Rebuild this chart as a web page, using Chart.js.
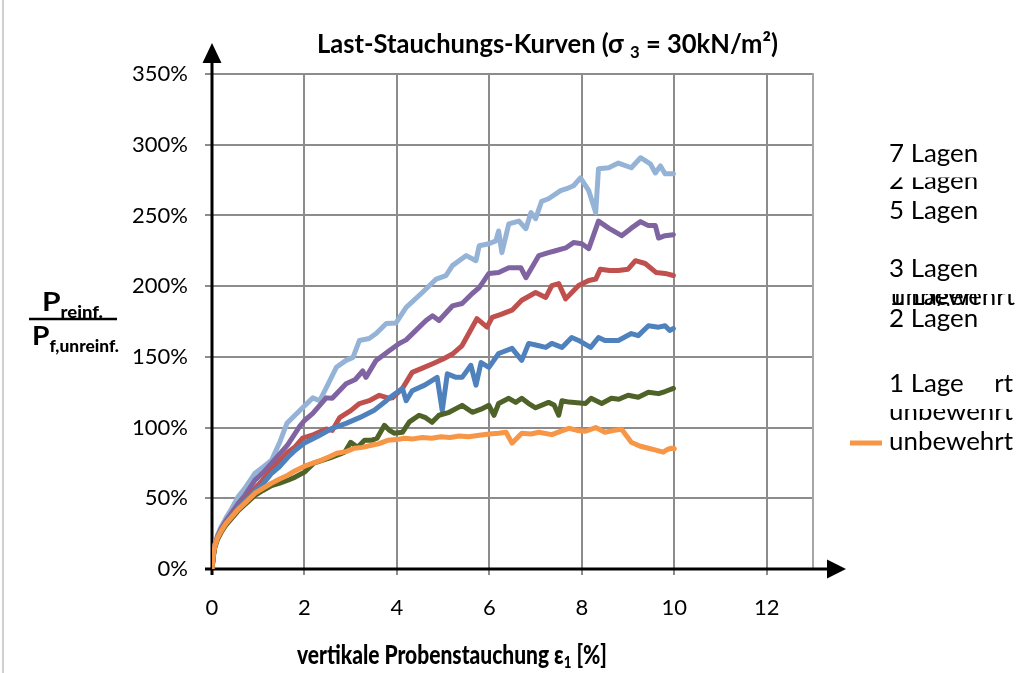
<!DOCTYPE html>
<html><head><meta charset="utf-8">
<script src="https://cdn.jsdelivr.net/npm/chart.js@4.4.1/dist/chart.umd.min.js"></script>
<style>html,body{margin:0;padding:0;background:#fff}canvas{display:block}</style>
</head><body>
<canvas id="c" width="1029" height="673"></canvas>
<script>
// ---- data ----
const seriesNames = ['unbewehrt', '1 Lage', '2 Lagen', '3 Lagen', '5 Lagen', '7 Lagen'];
const xTickValues = [0, 2, 4, 6, 8, 10, 12];
const yTickValues = [0, 50, 100, 150, 200, 250, 300, 350];

const xUnbewehrt = [0,0.03,0.06,0.12,0.2,0.3,0.43,0.56,0.71,0.93,1.1,1.29,1.45,1.64,1.8,2.0,2.2,2.37,2.55,2.7,2.9,3.08,3.25,3.45,3.6,3.8,4.0,4.16,4.35,4.55,4.75,4.95,5.15,5.35,5.55,5.78,6.0,6.2,6.36,6.49,6.7,6.9,7.07,7.35,7.55,7.72,7.9,8.08,8.3,8.5,8.7,8.86,9.07,9.25,9.44,9.6,9.76,9.85,9.94,10.0];
const yUnbewehrt = [0,10,16,22,27,32,37,42,46.6,53.6,57,60.7,63.5,66.3,69.5,72.7,75,77,79.5,81.9,83,85.4,86,87.5,88.5,91,91.5,92.5,92,93,92.5,93.5,93,94,93.5,94.5,95.5,96,96.7,89,96,95.5,96.7,95,97.5,99.5,98,97.4,100,96.7,98,98.8,89.6,87,85.4,84,82.6,84.5,85.4,85];

const x1Lage = [0,0.03,0.06,0.12,0.2,0.3,0.43,0.56,0.71,0.93,1.1,1.29,1.45,1.64,1.8,2.0,2.2,2.4,2.58,2.75,2.87,3.0,3.15,3.3,3.45,3.57,3.73,3.84,3.94,4.12,4.27,4.48,4.62,4.76,4.91,5.13,5.41,5.63,5.82,5.99,6.1,6.2,6.42,6.57,6.7,6.85,7.0,7.28,7.4,7.5,7.57,7.72,7.9,8.08,8.2,8.43,8.64,8.8,9.0,9.22,9.44,9.66,9.8,9.98];
const y1Lage = [0,9,15,21,26,31,36,41,45.5,52,55.5,59,60.5,62.8,65,68.5,74.8,77,79,81,82.6,89.6,86,91,91,92.5,101.6,98,96,96.7,104,108.7,107,103.7,108.7,110.8,115.7,110.8,113,115.7,108.7,117,120.7,117.8,120.7,117,114,117.8,116,108.7,119,118,117.5,117,120.7,117,120.7,120,122.8,121.4,125,124,125.5,127.7];

const x2Lagen = [0,0.03,0.06,0.12,0.2,0.3,0.43,0.56,0.71,0.93,1.1,1.29,1.45,1.64,1.8,2.0,2.3,2.6,2.9,3.19,3.5,3.77,3.84,4.05,4.12,4.2,4.33,4.6,4.87,4.98,5.09,5.28,5.41,5.6,5.71,5.82,5.99,6.2,6.49,6.7,6.85,7.05,7.22,7.35,7.57,7.78,7.93,8.19,8.36,8.5,8.79,9.07,9.22,9.44,9.66,9.8,9.9,9.98];
const y2Lagen = [0,10,16,22,27.5,32.5,37.5,43,48,55,60,67.7,72,79,84,89,94,99.5,103,107,112,119,121,126,127.7,119,126,130,135.5,112,138,135.5,135.5,144,130,146,142.6,152.4,156,147.5,159.5,158,156.7,159.5,156.7,163.7,161.6,156.7,163.7,161.6,161.6,166.5,165,172,171,172,168.7,170];

const x3Lagen = [0,0.03,0.06,0.12,0.2,0.3,0.43,0.56,0.71,0.93,1.1,1.29,1.45,1.64,1.8,1.96,2.2,2.47,2.6,2.76,3.0,3.19,3.4,3.62,3.84,3.9,4.12,4.33,4.55,4.76,5.0,5.2,5.41,5.73,5.95,6.06,6.25,6.49,6.7,7.0,7.22,7.35,7.5,7.65,7.93,8.15,8.3,8.4,8.6,8.79,9.0,9.16,9.37,9.61,9.8,9.98];
const y3Lagen = [0,10,16,22,27.5,33,38,43.5,49,57,63,70.6,76,82.6,86.5,92.5,95,99,98,107,112,117,119,122.8,120.7,121,127.7,139,142,145,148.5,152,158,177,171,178,180,183,190,195.5,192,200.4,201.8,191,200.4,204,205,212,211,211,212,218,216,209.6,209,207.5];

const x5Lagen = [0,0.03,0.06,0.12,0.2,0.3,0.43,0.56,0.71,0.93,1.1,1.29,1.4,1.64,1.9,2.0,2.18,2.47,2.6,2.9,3.1,3.26,3.33,3.55,3.84,4.05,4.2,4.41,4.63,4.77,4.91,5.2,5.41,5.63,5.78,5.99,6.2,6.42,6.68,6.79,7.07,7.28,7.43,7.65,7.82,8.0,8.15,8.36,8.58,8.86,9.07,9.27,9.44,9.59,9.66,9.8,9.98];
const y5Lagen = [0,10,16.5,23,28.5,34,40,46,52,62.8,68,74.8,79,88,101,105,110,121,120.7,131,134,140,135.5,147.5,154.5,159.5,162,168.7,175.7,179,175.7,186,187.7,194.8,199,209,209.6,213,213,206,221.6,223.7,225,227,230.8,230,226.5,246,241,235.7,241,245.6,242.8,242.8,234,235.7,236.4];

const x7Lagen = [0,0.03,0.06,0.12,0.2,0.3,0.43,0.56,0.71,0.93,1.1,1.29,1.47,1.62,1.68,1.96,2.18,2.33,2.47,2.69,2.9,3.05,3.19,3.4,3.55,3.77,3.98,4.2,4.55,4.85,5.06,5.2,5.5,5.71,5.78,5.99,6.14,6.2,6.27,6.42,6.64,6.79,6.9,7.0,7.13,7.28,7.54,7.67,7.82,7.97,8.15,8.3,8.36,8.58,8.79,9.07,9.27,9.48,9.59,9.7,9.8,9.98];
const y7Lagen = [0,10.5,17,24,30,36,43,50.8,57,67.7,72,77,90,103,105,114,121,119,128,142.6,147.5,149.6,161.6,163,166.5,173.6,174,185,195.5,205,207.5,214.5,221.6,218,228.6,230,232,239,223.7,244,246,240.6,252,247.7,260,261.8,267.5,268.9,271,276.6,267.5,252,283,283.7,287,283.7,290.8,286.5,280,285,279.5,279.5];

const legendTexts = ['7 Lagen', '2 Lagen', '5 Lagen', '3 Lagen', '1 Lagen', 'unbewehrt', '2 Lagen', '1 Lage', 'unbewehrt', 'unbewehrt'];

// ---- build ----
const zip = (xs, ys) => xs.map((x, i) => ({x: x, y: ys[i]}));
const seriesX = [xUnbewehrt, x1Lage, x2Lagen, x3Lagen, x5Lagen, x7Lagen];
const seriesY = [yUnbewehrt, y1Lage, y2Lagen, y3Lagen, y5Lagen, y7Lagen];
const colors = ['#F79646', '#4F6228', '#4F81BD', '#C0504D', '#8064A2', '#95B3D7'];

const datasets = seriesNames.map((n, i) => ({
  label: n,
  data: zip(seriesX[i], seriesY[i]),
  borderColor: colors[i],
  backgroundColor: colors[i],
  borderWidth: 5,
  borderJoinStyle: 'round',
  borderCapStyle: 'round',
  pointRadius: 0,
  tension: 0,
  fill: false
}));

function drawParts(ctx, parts, x, baseline, targetW) {
  let w = 0;
  parts.forEach(p => { ctx.font = p.f; w += ctx.measureText(p.t).width; });
  const sx = targetW / w;
  ctx.save();
  ctx.translate(x, baseline);
  ctx.scale(sx, 1);
  ctx.textAlign = 'left';
  ctx.textBaseline = 'alphabetic';
  ctx.fillStyle = '#000';
  let cx = 0;
  parts.forEach(p => { ctx.font = p.f; ctx.fillText(p.t, cx, p.dy || 0); cx += ctx.measureText(p.t).width; });
  ctx.restore();
}

const decor = {
  id: 'decor',
  beforeDraw(chart) {
    const ctx = chart.ctx;
    ctx.save();
    ctx.fillStyle = '#fff';
    ctx.fillRect(0, 0, chart.width, chart.height);
    ctx.restore();
  },
  beforeDatasetsDraw(chart) {
    const ctx = chart.ctx, a = chart.chartArea;
    const xs = chart.scales.x, ys = chart.scales.y;
    const x0 = xs.getPixelForValue(0), y0 = ys.getPixelForValue(0);
    ctx.save();
    ctx.strokeStyle = '#a6a6a6';
    ctx.lineWidth = 2;
    ctx.beginPath(); ctx.moveTo(a.right, a.top - 1); ctx.lineTo(a.right, a.bottom); ctx.stroke();
    ctx.strokeStyle = '#000'; ctx.fillStyle = '#000';
    ctx.lineWidth = 3;
    ctx.beginPath(); ctx.moveTo(x0, y0 + 6); ctx.lineTo(x0, a.top - 12); ctx.stroke();
    ctx.beginPath(); ctx.moveTo(x0, a.top - 31); ctx.lineTo(x0 - 9.5, a.top - 11); ctx.lineTo(x0 + 9.5, a.top - 11); ctx.closePath(); ctx.fill();
    ctx.beginPath(); ctx.moveTo(x0 - 7, y0); ctx.lineTo(a.right + 15, y0); ctx.stroke();
    ctx.beginPath(); ctx.moveTo(a.right + 33, y0); ctx.lineTo(a.right + 14, y0 - 9.5); ctx.lineTo(a.right + 14, y0 + 9.5); ctx.closePath(); ctx.fill();
    ctx.restore();
  },
  afterDraw(chart) {
    const ctx = chart.ctx;
    ctx.save();
    ctx.strokeStyle = '#d0d0d0'; ctx.lineWidth = 2;
    ctx.beginPath(); ctx.moveTo(3, 0); ctx.lineTo(3, chart.height); ctx.stroke();

    // title
    drawParts(ctx, [
      {t: 'Last-Stauchungs-Kurven (σ ', f: 'bold 26px Lato'},
      {t: '3', f: 'bold 17px Lato', dy: 5},
      {t: ' = 30kN/m²)', f: 'bold 26px Lato'}
    ], 317, 53, 461);

    // x axis title
    drawParts(ctx, [
      {t: 'vertikale Probenstauchung ε', f: '900 27px Lato'},
      {t: '1', f: '900 17px Lato', dy: 4},
      {t: ' [%]', f: '900 27px Lato'}
    ], 297, 664, 310);

    // y axis fraction label
    drawParts(ctx, [
      {t: 'P', f: 'bold 26px Lato'},
      {t: 'reinf.', f: '900 16px Lato', dy: 7}
    ], 42, 311, 61);
    ctx.strokeStyle = '#000'; ctx.lineWidth = 2.5;
    ctx.beginPath(); ctx.moveTo(29, 319); ctx.lineTo(117, 319); ctx.stroke();
    drawParts(ctx, [
      {t: 'P', f: 'bold 26px Lato'},
      {t: 'f,unreinf.', f: '900 16px Lato', dy: 7}
    ], 32, 345, 87);

    // legend
    ctx.font = '25px Lato';
    const sx = 124 / ctx.measureText('unbewehrt').width;
    const txt = (t, x, y) => {
      ctx.save(); ctx.translate(x, y); ctx.scale(sx, 1);
      ctx.font = '25px Lato'; ctx.fillStyle = '#000'; ctx.textBaseline = 'alphabetic';
      ctx.fillText(t, 0, 0); ctx.restore();
    };
    const clipped = (fn, top) => {
      ctx.save(); ctx.beginPath(); ctx.rect(860, top, 169, 60); ctx.clip(); fn(); ctx.restore();
    };
    txt(legendTexts[0], 889, 162);
    clipped(() => txt(legendTexts[1], 889, 189), 177.5);
    txt(legendTexts[2], 889, 219);
    txt(legendTexts[3], 889, 277);
    clipped(() => { txt(legendTexts[4], 889, 305); txt(legendTexts[5], 891, 305); }, 294);
    ctx.fillStyle = '#fff'; ctx.fillRect(884, 306, 140, 8);
    txt(legendTexts[6], 889, 327);
    txt(legendTexts[5], 889, 392);
    ctx.fillStyle = '#fff'; ctx.fillRect(884, 366, 110, 32);
    txt(legendTexts[7], 889, 392);
    clipped(() => txt(legendTexts[8], 889, 420), 409);
    ctx.strokeStyle = colors[0]; ctx.lineWidth = 5;
    ctx.beginPath(); ctx.moveTo(850, 443); ctx.lineTo(882, 443); ctx.stroke();
    txt(legendTexts[9], 889, 450);
    ctx.restore();
  }
};

new Chart(document.getElementById('c'), {
  type: 'line',
  data: { datasets: datasets },
  plugins: [decor],
  options: {
    responsive: false,
    devicePixelRatio: 1,
    animation: false,
    layout: { padding: { left: 0, right: 216, top: 74, bottom: 0 } },
    plugins: { legend: { display: false }, title: { display: false }, tooltip: { enabled: false } },
    scales: {
      x: {
        type: 'linear', min: 0, max: 13,
        afterBuildTicks: s => { s.ticks = xTickValues.map(v => ({value: v})); },
        afterFit: s => { s.height = 104; },
        grid: { color: '#8c8c8c', lineWidth: 2, tickLength: 6 },
        border: { display: false },
        ticks: { color: '#000', font: { family: 'Lato', size: 22 }, padding: 20, maxRotation: 0 }
      },
      y: {
        type: 'linear', min: 0, max: 350,
        afterBuildTicks: s => { s.ticks = yTickValues.map(v => ({value: v})); },
        afterFit: s => { s.width = 212; },
        grid: { color: '#8c8c8c', lineWidth: 2, tickLength: 7 },
        border: { display: false },
        ticks: { color: '#000', font: { family: 'Lato', size: 22 }, padding: 17, callback: v => v + '%' }
      }
    }
  }
});
</script>
</body></html>
